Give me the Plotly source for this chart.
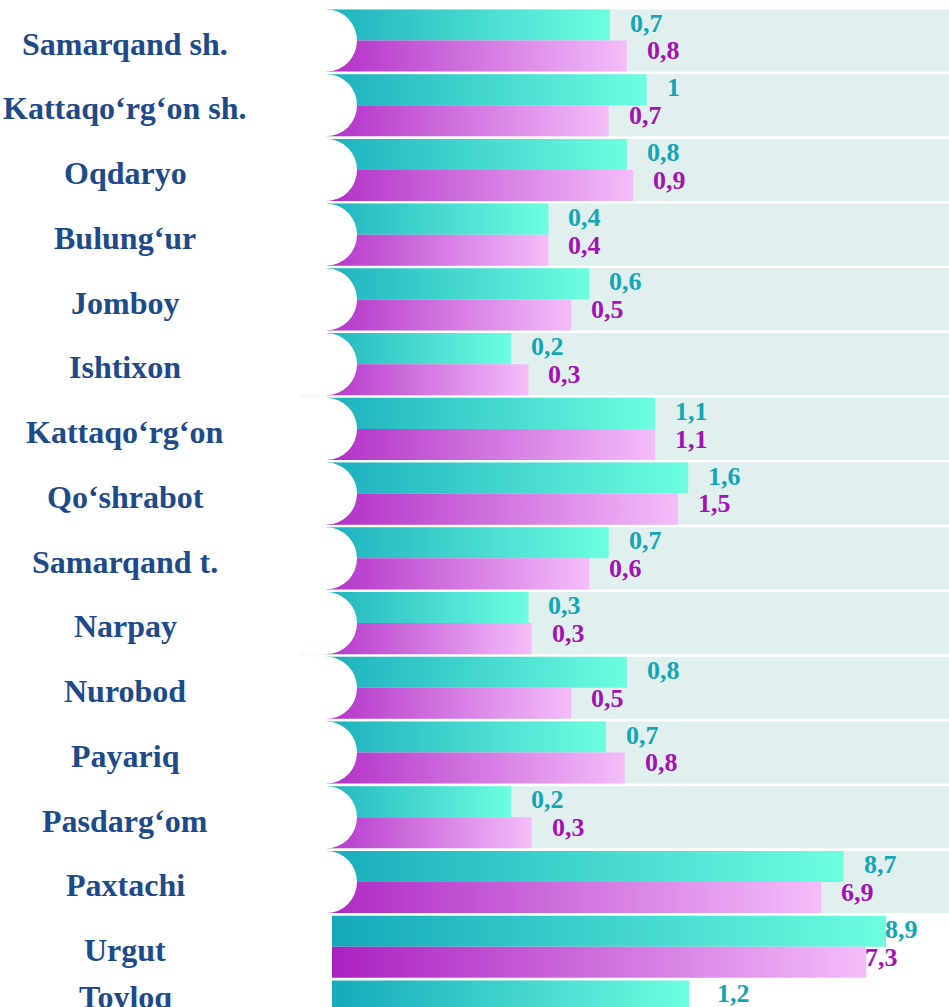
import numpy as np
import plotly.graph_objects as go

# ---- data ----
districts = [
    "Samarqand sh.", "Kattaqo‘rg‘on sh.", "Oqdaryo", "Bulung‘ur", "Jomboy",
    "Ishtixon", "Kattaqo‘rg‘on", "Qo‘shrabot", "Samarqand t.", "Narpay",
    "Nurobod", "Payariq", "Pasdarg‘om", "Paxtachi", "Urgut", "Toyloq",
]
series_teal = [0.70, 1.04, 0.84, 0.36, 0.56, 0.24, 1.14, 1.63, 0.69, 0.29,
               0.84, 0.67, 0.24, 8.74, 8.94, 1.24]
series_pink = [0.84, 0.69, 0.90, 0.36, 0.46, 0.29, 1.14, 1.46, 0.56, 0.30,
               0.46, 0.82, 0.30, 6.86, 7.34, None]

# ---- styles ----
TEAL_SCALE = [[0, "#12a6b9"], [1, "#6dfee0"]]
PINK_SCALE = [[0, "#a81ebf"], [1, "#f4bdfa"]]
TEAL_TXT = "#12a6b7"
PINK_TXT = "#a312b3"
CAT_TXT = "#1d4b8a"
ROW_BG = "#dff0ef"
FONT = "Liberation Serif"

W, H = 949, 1007
LEFT = 300
X_RANGE = [-1.6103, 1.4366]        # upper block (rows with background)
LEFT2 = 332
X2_RANGE = [-1.4617, 1.2256]       # lower block (Urgut, Toyloq)
PITCH = 64.73
ROW0 = 40.5
Y_RANGE = [(H - ROW0) / PITCH, -ROW0 / PITCH]
HALF = 0.48
N_BG_ROWS = 14
LABEL_SHIFT = {14: -3, 15: 26}

def fmt(v):
    s = f"{v:.1f}".replace(".", ",")
    return s[:-2] if s.endswith(",0") else s

fig = go.Figure()
shapes = []
annotations = []

for i, name in enumerate(districts):
    upper = i < N_BG_ROWS
    xa = "x" if upper else "x2"
    rng = X_RANGE if upper else X2_RANGE
    base = 10 ** (rng[0] - 0.05)
    if upper:
        shapes.append(dict(type="rect", xref="paper", yref="y", x0=0, x1=1,
                           y0=i - HALF, y1=i + HALF, fillcolor=ROW_BG,
                           line=dict(width=0), layer="below"))
    for val, (y0, y1), scale, tcol, ty in [
        (series_teal[i], (i - HALF, i), TEAL_SCALE, TEAL_TXT, i - 0.27),
        (series_pink[i], (i, i + HALF), PINK_SCALE, PINK_TXT, i + 0.16),
    ]:
        if val is None:
            continue
        fig.add_trace(go.Scatter(
            x=[base, val, val, base, base], y=[y0, y0, y1, y1, y0],
            xaxis=xa, yaxis="y",
            mode="lines", line=dict(width=0), fill="toself",
            fillgradient=dict(type="horizontal", colorscale=scale),
            hoverinfo="skip", showlegend=False))
        annotations.append(dict(
            x=np.log10(val), y=ty, xref=xa, yref="y", xanchor="left",
            yanchor="middle", xshift=LABEL_SHIFT.get(i, 18), showarrow=False,
            text=f"<b>{fmt(val)}</b>",
            font=dict(family=FONT, size=26, color=tcol)))
    last = i == len(districts) - 1
    annotations.append(dict(
        x=(125 - LEFT) / (W - LEFT), y=i - 0.22 if last else i + 0.05,
        xref="paper", yref="y",
        xanchor="center", yanchor="middle", showarrow=False,
        text=f"<b>{name}</b>",
        font=dict(family=FONT, size=32, color=CAT_TXT)))

# white rounded caps on the left of the rows
for i in range(N_BG_ROWS):
    shapes.append(dict(type="rect", xref="paper", yref="y", xsizemode="pixel",
                       xanchor=0, x0=-6, x1=27, y0=i - HALF - 0.01,
                       y1=i + HALF + 0.01, fillcolor="white",
                       line=dict(width=0)))
    shapes.append(dict(type="circle", xref="paper", yref="y", xsizemode="pixel",
                       xanchor=0, x0=-4, x1=57, ysizemode="pixel", yanchor=i,
                       y0=-31, y1=31, fillcolor="white", line=dict(width=0)))

fig.update_layout(
    width=W, height=H,
    margin=dict(l=LEFT, r=0, t=0, b=0, pad=0),
    paper_bgcolor="white", plot_bgcolor="rgba(0,0,0,0)",
    xaxis=dict(type="log", range=X_RANGE, visible=False, showgrid=False,
               zeroline=False, fixedrange=True, domain=[0, 1]),
    xaxis2=dict(type="log", range=X2_RANGE, visible=False, showgrid=False,
                zeroline=False, fixedrange=True, anchor="y",
                domain=[(LEFT2 - LEFT) / (W - LEFT), 1]),
    yaxis=dict(range=Y_RANGE, visible=False, showgrid=False, zeroline=False,
               fixedrange=True),
    shapes=shapes, annotations=annotations, showlegend=False,
)

fig.write_html(
    "out.html",
    config={"displayModeBar": False, "staticPlot": True},
    post_script="document.body.style.margin='0px';"
                "document.body.style.overflow='hidden';",
)
